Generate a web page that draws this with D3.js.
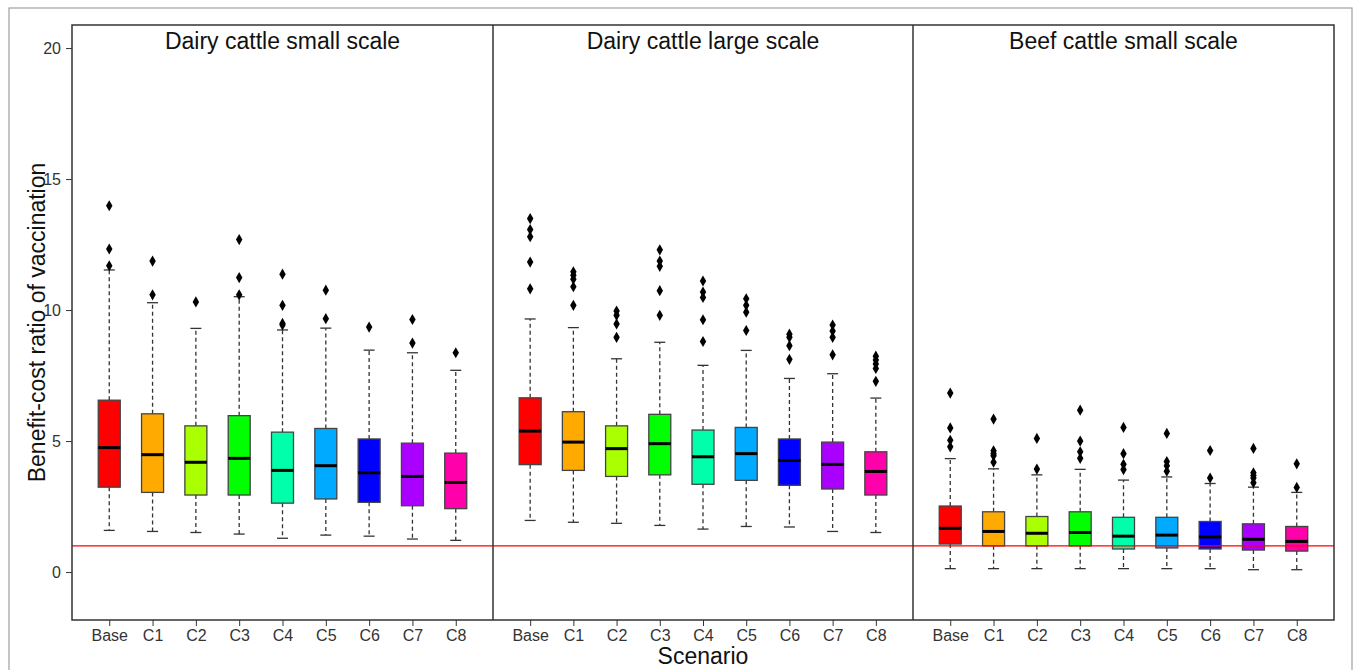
<!DOCTYPE html>
<html>
<head>
<meta charset="utf-8">
<script src="https://cdn.jsdelivr.net/npm/d3@7"></script>
<style>
  body { margin: 0; background: #fff; }
  text { font-family: "Liberation Sans", Arial, sans-serif; }
</style>
</head>
<body>
<div id="chart"></div>
<script>
// categories and colours (R rainbow(9))
var scenarios = ["Base", "C1", "C2", "C3", "C4", "C5", "C6", "C7", "C8"];
var colors = ["#FF0000", "#FFAA00", "#AAFF00", "#00FF00", "#00FFAA", "#00AAFF", "#0000FF", "#AA00FF", "#FF00AA"];
var panelTitles = ["Dairy cattle small scale", "Dairy cattle large scale", "Beef cattle small scale"];
var yTicks = [0, 5, 10, 15, 20];

// Dairy cattle small scale
var dsLow = [1.59, 1.55, 1.51, 1.45, 1.29, 1.41, 1.37, 1.26, 1.21];
var dsQ1 = [3.24, 3.04, 2.94, 2.94, 2.63, 2.79, 2.66, 2.53, 2.42];
var dsMed = [4.75, 4.48, 4.19, 4.34, 3.88, 4.06, 3.79, 3.65, 3.42];
var dsQ3 = [6.56, 6.04, 5.58, 5.97, 5.34, 5.48, 5.08, 4.92, 4.54];
var dsHigh = [11.53, 10.28, 9.30, 10.51, 9.24, 9.31, 8.47, 8.37, 7.70];
var dsOut = [[13.98, 12.33, 11.69], [11.87, 10.58], [10.31], [12.69, 11.24, 10.58],
  [11.37, 10.18, 9.49, 9.43], [10.76, 9.67], [9.35], [9.64, 8.74], [8.37]];

// Dairy cattle large scale
var dlLow = [1.97, 1.90, 1.86, 1.78, 1.64, 1.74, 1.72, 1.55, 1.51];
var dlQ1 = [4.10, 3.88, 3.65, 3.71, 3.35, 3.50, 3.31, 3.17, 2.94];
var dlMed = [5.38, 4.96, 4.71, 4.90, 4.40, 4.52, 4.26, 4.11, 3.84];
var dlQ3 = [6.65, 6.12, 5.58, 6.02, 5.42, 5.52, 5.08, 4.96, 4.59];
var dlHigh = [9.66, 9.33, 8.14, 8.77, 7.89, 8.46, 7.39, 7.57, 6.64];
var dlOut = [[13.49, 13.07, 12.80, 11.83, 10.81], [11.46, 11.33, 11.18, 10.89, 10.18],
  [9.96, 9.80, 9.47, 8.96], [12.30, 11.87, 11.67, 10.74, 9.80], [11.11, 10.69, 10.48, 9.63, 8.80],
  [10.43, 10.18, 9.92, 9.22], [9.08, 8.96, 8.64, 8.12], [9.43, 9.20, 8.96, 8.29],
  [8.24, 8.09, 7.94, 7.77, 7.28]];

// Beef cattle small scale
var bsLow = [0.13, 0.13, 0.13, 0.13, 0.13, 0.13, 0.13, 0.09, 0.09];
var bsQ1 = [1.07, 1.00, 1.00, 1.00, 0.88, 0.92, 0.88, 0.84, 0.80];
var bsMed = [1.67, 1.55, 1.48, 1.51, 1.37, 1.41, 1.34, 1.25, 1.17];
var bsQ3 = [2.52, 2.30, 2.12, 2.30, 2.09, 2.09, 1.93, 1.84, 1.74];
var bsHigh = [4.33, 3.94, 3.71, 3.92, 3.51, 3.63, 3.38, 3.24, 3.04];
var bsOut = [[6.83, 5.50, 5.03, 4.78], [5.84, 4.63, 4.52, 4.44, 4.19], [5.10, 3.93],
  [6.18, 5.00, 4.59, 4.34], [5.52, 4.52, 4.11, 3.91], [5.29, 4.22, 4.06, 3.85],
  [4.64, 3.59], [4.72, 3.79, 3.69, 3.59, 3.41], [4.13, 3.23]];

var refLine = 1;

var panels = [
  [dsLow, dsQ1, dsMed, dsQ3, dsHigh, dsOut],
  [dlLow, dlQ1, dlMed, dlQ3, dlHigh, dlOut],
  [bsLow, bsQ1, bsMed, bsQ3, bsHigh, bsOut]
];

var W = 1357, H = 670;
var plotL = 72, plotR = 1334, plotT = 25, plotB = 620;
var panelEdges = [72, 493, 913, 1334];

var svg = d3.select("#chart").append("svg")
  .attr("width", W).attr("height", H);

// outer grey border
svg.append("rect")
  .attr("x", 9).attr("y", 8).attr("width", 1343).attr("height", 680)
  .attr("fill", "none").attr("stroke", "#a0a0a0").attr("stroke-width", 1.2);

var y = d3.scaleLinear().domain([-1.83, 20.88]).range([plotB, plotT]);

// y axis
var yAxis = svg.append("g")
  .attr("transform", "translate(" + plotL + ",0)")
  .call(d3.axisLeft(y).tickValues(yTicks).tickSize(6).tickPadding(5));
yAxis.select(".domain").remove();
yAxis.selectAll("line").attr("stroke", "#333");
yAxis.selectAll("text").attr("font-size", 16).attr("fill", "#333")
  .style("font-family", "Liberation Sans, Arial, sans-serif");

panels.forEach(function(p, pi) {
  var low = p[0], q1 = p[1], med = p[2], q3 = p[3], high = p[4], outs = p[5];
  var x = d3.scalePoint()
    .domain(scenarios)
    .range([panelEdges[pi], panelEdges[pi + 1]])
    .padding(0.86);

  var g = svg.append("g");

  // x axis
  var xa = svg.append("g")
    .attr("transform", "translate(0," + plotB + ")")
    .call(d3.axisBottom(x).tickSize(6).tickPadding(4));
  xa.select(".domain").remove();
  xa.selectAll("line").attr("stroke", "#333");
  xa.selectAll("text").attr("font-size", 16).attr("fill", "#333")
    .style("font-family", "Liberation Sans, Arial, sans-serif");

  var bw = 22, cw = 11;
  scenarios.forEach(function(s, i) {
    var cx = x(s);
    // whiskers
    g.append("line")
      .attr("x1", cx).attr("x2", cx).attr("y1", y(q3[i])).attr("y2", y(high[i]))
      .attr("stroke", "#333").attr("stroke-dasharray", "4,3").attr("stroke-width", 1.3);
    g.append("line")
      .attr("x1", cx).attr("x2", cx).attr("y1", y(q1[i])).attr("y2", y(low[i]))
      .attr("stroke", "#333").attr("stroke-dasharray", "4,3").attr("stroke-width", 1.3);
    [low[i], high[i]].forEach(function(v) {
      g.append("line")
        .attr("x1", cx - cw / 2).attr("x2", cx + cw / 2).attr("y1", y(v)).attr("y2", y(v))
        .attr("stroke", "#333").attr("stroke-width", 1.3);
    });
    // box
    g.append("rect")
      .attr("x", cx - bw / 2).attr("width", bw)
      .attr("y", y(q3[i])).attr("height", y(q1[i]) - y(q3[i]))
      .attr("fill", colors[i]).attr("stroke", "#444").attr("stroke-width", 1.3);
    g.append("line")
      .attr("x1", cx - bw / 2).attr("x2", cx + bw / 2).attr("y1", y(med[i])).attr("y2", y(med[i]))
      .attr("stroke", "#000").attr("stroke-width", 3);
    // outliers
    g.selectAll(null).data(outs[i]).enter().append("path")
      .attr("transform", function(d) { return "translate(" + cx + "," + y(d) + ")"; })
      .attr("d", d3.symbol().type(d3.symbolDiamond).size(36))
      .attr("fill", "#000");
  });

  // panel title
  svg.append("text")
    .attr("x", (panelEdges[pi] + panelEdges[pi + 1]) / 2).attr("y", 49)
    .attr("text-anchor", "middle").attr("font-size", 23).attr("fill", "#111")
    .text(panelTitles[pi]);
});

// reference line
svg.append("line")
  .attr("x1", plotL).attr("x2", plotR).attr("y1", y(refLine)).attr("y2", y(refLine))
  .attr("stroke", "#FF0000").attr("stroke-width", 1.2);

// frame and dividers
svg.append("rect")
  .attr("x", plotL).attr("y", plotT).attr("width", plotR - plotL).attr("height", plotB - plotT)
  .attr("fill", "none").attr("stroke", "#333").attr("stroke-width", 1.5);
[panelEdges[1], panelEdges[2]].forEach(function(px) {
  svg.append("line").attr("x1", px).attr("x2", px).attr("y1", plotT).attr("y2", plotB)
    .attr("stroke", "#333").attr("stroke-width", 1.5);
});

// axis titles
svg.append("text")
  .attr("x", (plotL + plotR) / 2).attr("y", 664)
  .attr("text-anchor", "middle").attr("font-size", 23).attr("fill", "#111")
  .text("Scenario");
svg.append("text")
  .attr("transform", "translate(45," + ((plotT + plotB) / 2) + ") rotate(-90)")
  .attr("text-anchor", "middle").attr("font-size", 23).attr("fill", "#111")
  .text("Benefit-cost ratio of vaccination");
</script>
</body>
</html>
